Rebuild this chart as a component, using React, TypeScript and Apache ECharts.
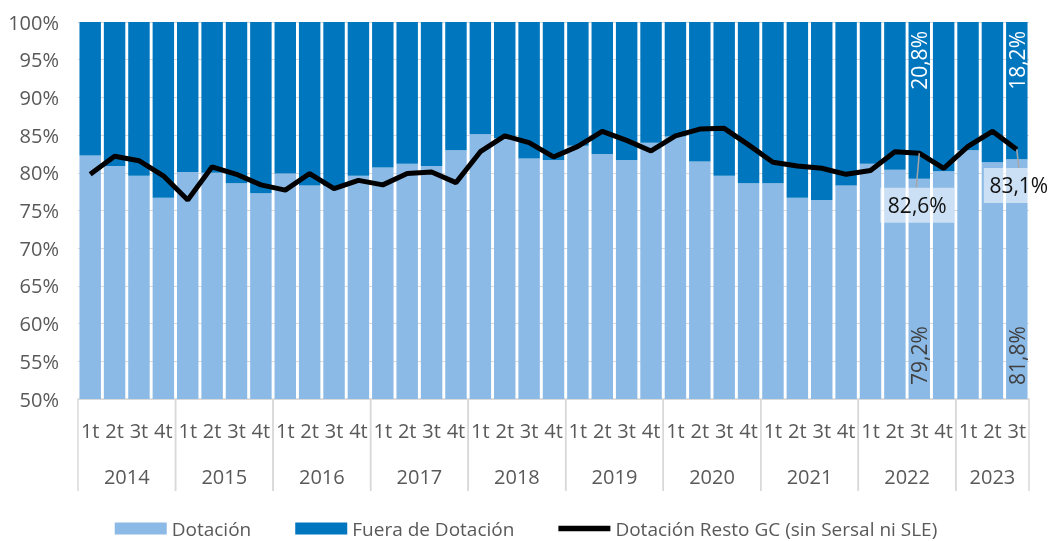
import React, { useEffect, useRef } from "react";
import * as echarts from "echarts";

// ---- Data ----
const quarters = [
  "1t", "2t", "3t", "4t", "1t", "2t", "3t", "4t", "1t", "2t", "3t", "4t",
  "1t", "2t", "3t", "4t", "1t", "2t", "3t", "4t", "1t", "2t", "3t", "4t",
  "1t", "2t", "3t", "4t", "1t", "2t", "3t", "4t", "1t", "2t", "3t", "4t",
  "1t", "2t", "3t",
];
const years = ["2014", "2015", "2016", "2017", "2018", "2019", "2020", "2021", "2022", "2023"];
const quartersPerYear = [4, 4, 4, 4, 4, 4, 4, 4, 4, 3];

const dotacion = [
  82.3, 80.9, 79.6, 76.7, 80.1, 80.0, 78.6, 77.3, 79.9, 78.3, 78.2, 79.6,
  80.7, 81.2, 80.9, 83.0, 85.1, 84.6, 81.9, 81.7, 83.6, 82.5, 81.7, 84.0,
  84.8, 81.5, 79.6, 78.6, 78.6, 76.7, 76.4, 78.3, 81.2, 80.4, 79.2, 80.2,
  83.0, 81.4, 81.8,
];
const fueraDotacion = [
  17.7, 19.1, 20.4, 23.3, 19.9, 20.0, 21.4, 22.7, 20.1, 21.7, 21.8, 20.4,
  19.3, 18.8, 19.1, 17.0, 14.9, 15.4, 18.1, 18.3, 16.4, 17.5, 18.3, 16.0,
  15.2, 18.5, 20.4, 21.4, 21.4, 23.3, 23.6, 21.7, 18.8, 19.6, 20.8, 19.8,
  17.0, 18.6, 18.2,
];
const restoGC = [
  79.8, 82.2, 81.6, 79.6, 76.4, 80.8, 79.8, 78.4, 77.7, 79.9, 77.9, 79.0,
  78.4, 79.9, 80.1, 78.7, 82.8, 84.9, 84.0, 82.1, 83.5, 85.5, 84.3, 82.9,
  84.9, 85.8, 85.9, 83.7, 81.4, 80.9, 80.6, 79.8, 80.3, 82.8, 82.6, 80.6,
  83.5, 85.5, 83.1,
];
const labeledIdx = [34, 38];

// ---- Styling / layout (not data) ----
const FONT = '"Open Sans", "Noto Sans", sans-serif';
const GRAY = "#595959";
const LIGHT = "#8CBAE6";
const DARK = "#0076BF";
const GRID = "#D9D9D9";
const FS = 20;
// annotation box center offset from point [dx, dy], leader end dx
const annotationLayout = [
  { dx: -2, dy: 52, lx: -3, w: 74 },
  { dx: 2, dy: 36, lx: 2, w: 70 },
];

const fmt = (v: number) => v.toFixed(1).replace(".", ",") + "%";

export default function App() {
  const ref = useRef<HTMLDivElement>(null);

  useEffect(() => {
    if (!ref.current) return;
    const chart = echarts.init(ref.current, undefined, { renderer: "svg" });

    const yearRanges: number[][] = [];
    let start = 0;
    quartersPerYear.forEach((n) => {
      yearRanges.push([start, start + n - 1]);
      start += n;
    });

    const dotData = dotacion.map((v, i) =>
      labeledIdx.includes(i)
        ? {
            value: v,
            label: {
              show: true,
              position: "insideBottom",
              rotate: 90,
              align: "left",
              verticalAlign: "middle",
              distance: 14,
              color: "#404040",
              fontSize: 21,
              fontFamily: FONT,
              formatter: (p: any) => fmt(p.value),
            },
          }
        : v
    );
    const fueraData = fueraDotacion.map((v, i) =>
      labeledIdx.includes(i)
        ? {
            value: v,
            label: {
              show: true,
              position: "insideTop",
              rotate: 90,
              align: "right",
              verticalAlign: "middle",
              distance: 9,
              color: "#ffffff",
              fontSize: 21,
              fontFamily: FONT,
              formatter: (p: any) => fmt(p.value),
            },
          }
        : v
    );

    const option: any = {
      animation: false,
      grid: { left: 78, right: 23, top: 22, bottom: 142, containLabel: false },
      legend: {
        left: "center",
        top: 514,
        itemWidth: 52,
        itemHeight: 12,
        itemGap: 44,
        textStyle: { color: GRAY, fontSize: 19, fontFamily: FONT },
        data: [
          { name: "Dotación", icon: "rect" },
          { name: "Fuera de Dotación", icon: "rect" },
          {
            name: "Dotación Resto GC (sin Sersal ni SLE)",
            icon: "path://M0,0h52v5.5h-52z",
            itemStyle: { color: "#000" },
          },
        ],
      },
      xAxis: {
        type: "category",
        data: quarters,
        boundaryGap: true,
        axisLine: { show: true, lineStyle: { color: GRID, width: 1.5 } },
        axisTick: { show: false },
        axisLabel: {
          interval: 0,
          color: GRAY,
          fontSize: FS,
          fontFamily: FONT,
          margin: 21,
        },
      },
      yAxis: {
        type: "value",
        min: 50,
        max: 100,
        interval: 5,
        axisLine: { show: false },
        axisTick: { show: false },
        splitLine: { lineStyle: { color: GRID, width: 1 } },
        axisLabel: {
          color: GRAY,
          fontSize: FS,
          fontFamily: FONT,
          margin: 19,
          formatter: (v: number) => v + "%",
        },
      },
      series: [
        {
          name: "Dotación",
          type: "bar",
          stack: "total",
          barCategoryGap: "12%",
          itemStyle: { color: LIGHT },
          data: dotData,
          z: 2,
        },
        {
          name: "Fuera de Dotación",
          type: "bar",
          stack: "total",
          barCategoryGap: "12%",
          itemStyle: { color: DARK },
          data: fueraData,
          z: 2,
        },
        {
          name: "Dotación Resto GC (sin Sersal ni SLE)",
          type: "line",
          data: restoGC,
          symbol: "none",
          showSymbol: false,
          lineStyle: { color: "#000", width: 5 },
          itemStyle: { color: "#000" },
          z: 5,
        },
        {
          type: "custom",
          name: "years",
          clip: false,
          silent: true,
          z: 3,
          data: yearRanges,
          renderItem: (params: any, api: any) => {
            const s = api.value(0);
            const e = api.value(1);
            const bw = api.size([1, 0])[0];
            const ps = api.coord([s, 50]);
            const pe = api.coord([e, 50]);
            const x1 = ps[0] - bw / 2;
            const x2 = pe[0] + bw / 2;
            const y0 = ps[1];
            const lineStyle = { stroke: GRID, lineWidth: 1.5 };
            return {
              type: "group",
              children: [
                { type: "line", shape: { x1, y1: y0, x2: x1, y2: y0 + 92 }, style: lineStyle },
                { type: "line", shape: { x1: x2, y1: y0, x2: x2, y2: y0 + 92 }, style: lineStyle },
                {
                  type: "text",
                  x: (x1 + x2) / 2,
                  y: y0 + 77,
                  style: {
                    text: years[params.dataIndex],
                    fill: GRAY,
                    font: `${FS}px ${FONT}`,
                    align: "center",
                    verticalAlign: "middle",
                  },
                },
              ],
            };
          },
        },
        {
          type: "custom",
          name: "annotations",
          clip: false,
          silent: true,
          z: 10,
          data: labeledIdx.map((i) => [i, restoGC[i]]),
          renderItem: (params: any, api: any) => {
            const idx = api.value(0);
            const val = api.value(1);
            const p = api.coord([idx, val]);
            const L = annotationLayout[params.dataIndex];
            const cx = p[0] + L.dx;
            const cy = p[1] + L.dy;
            const h = 35;
            return {
              type: "group",
              children: [
                {
                  type: "line",
                  shape: { x1: p[0], y1: p[1], x2: p[0] + L.lx, y2: cy - h / 2 },
                  style: { stroke: "#A6A6A6", lineWidth: 1.5 },
                },
                {
                  type: "rect",
                  shape: { x: cx - L.w / 2, y: cy - h / 2, width: L.w, height: h },
                  style: { fill: "rgba(255,255,255,0.55)" },
                },
                {
                  type: "text",
                  x: cx,
                  y: cy,
                  style: {
                    text: fmt(val),
                    fill: "#111111",
                    font: `21px ${FONT}`,
                    align: "center",
                    verticalAlign: "middle",
                  },
                },
              ],
            };
          },
        },
      ],
    };

    chart.setOption(option);
    return () => chart.dispose();
  }, []);

  return (
    <div
      ref={ref}
      style={{ position: "fixed", left: 0, top: 0, width: 1052, height: 541 }}
    />
  );
}
